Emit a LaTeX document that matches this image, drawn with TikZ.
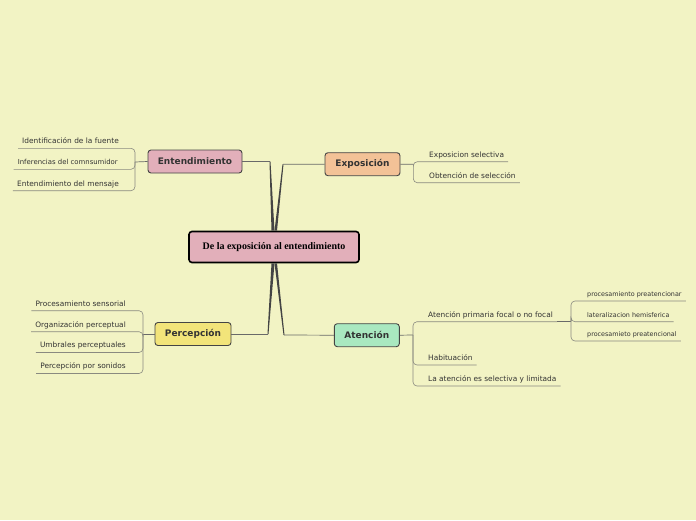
\documentclass[tikz,border=0pt]{standalone}
\usepackage{fontspec}
\setsansfont{DejaVu Sans}
\newfontfamily\titlefont{Liberation Serif}
\usepackage{xcolor}
\definecolor{bgyellow}{HTML}{F2F3C4}
\definecolor{pinkfill}{HTML}{E2AFBA}
\definecolor{orangefill}{HTML}{F3C297}
\definecolor{yellowfill}{HTML}{F2E47A}
\definecolor{greenfill}{HTML}{A9E8C0}
\definecolor{darkgray}{HTML}{444444}
\definecolor{textgray}{HTML}{333333}
\definecolor{linegray}{HTML}{8A8A80}
\usepackage{tikz}
\usetikzlibrary{positioning, calc}
\tikzstyle{centre} = [
  rectangle, rounded corners=3pt,
  draw=black, line width=1.6pt, fill=pinkfill,
  minimum width=170pt, minimum height=31pt,
  font=\titlefont\bfseries\fontsize{10}{12}\selectfont
]
\tikzstyle{topic} = [
  rectangle, rounded corners=3pt,
  draw=darkgray, line width=0.9pt, minimum height=23pt,
  text=textgray, font=\sffamily\bfseries\fontsize{9}{10}\selectfont
]
\tikzstyle{leaf} = [
  inner xsep=4pt, inner ysep=3pt, text height=5pt, text depth=1.5pt,
  text=textgray, font=\sffamily\fontsize{7.4}{8}\selectfont
]
\tikzstyle{subleaf} = [
  leaf, font=\sffamily\fontsize{6.4}{7}\selectfont
]
\tikzstyle{trunk} = [fill=darkgray]
\tikzstyle{twig} = [draw=darkgray!80, line width=0.7pt]
\tikzstyle{branch} = [draw=linegray, line width=0.6pt, rounded corners=4pt]

\begin{document}
\begin{tikzpicture}[x=1pt, y=-1pt]

  % ── Canvas ────────────────────────────────────────────
  \fill[bgyellow] (0,0) rectangle (696,520);
  \useasboundingbox (0,0) rectangle (696,520);

  % ── Centre and main topics ────────────────────────────
  \node[centre] (centre) at (274,247) {De la exposición al entendimiento};
  \node[topic, fill=pinkfill, minimum width=94pt]   (entend) at (195,161.5) {Entendimiento};
  \node[topic, fill=orangefill, minimum width=75pt] (expo)   at (362.5,164.2) {Exposición};
  \node[topic, fill=yellowfill, minimum width=76pt] (percep) at (193,334) {Percepción};
  \node[topic, fill=greenfill, minimum width=65pt]  (atenc)  at (366.8,335.2) {Atención};

  % ── Trunks from the centre ────────────────────────────
  \coordinate (bentend) at (270,161.5);
  \coordinate (bexpo)   at (283,164.3);
  \coordinate (bpercep) at (268,334);
  \coordinate (batenc)  at (284,335);

  \fill[trunk] ($(centre.north)+(-2.5,0)$) -- ($(bentend)+(-0.5,0)$)
    -- ($(bentend)+(0.5,0)$) -- ($(centre.north)+(0.5,0)$) -- cycle;
  \fill[trunk] ($(centre.north)+(0.5,0)$) -- ($(bexpo)+(-0.5,0)$)
    -- ($(bexpo)+(0.5,0)$) -- ($(centre.north)+(3,0)$) -- cycle;
  \fill[trunk] ($(centre.south)+(-2.5,0)$) -- ($(bpercep)+(-0.5,0)$)
    -- ($(bpercep)+(0.5,0)$) -- ($(centre.south)+(0.5,0)$) -- cycle;
  \fill[trunk] ($(centre.south)+(0.5,0)$) -- ($(batenc)+(-0.5,0)$)
    -- ($(batenc)+(0.5,0)$) -- ($(centre.south)+(3,0)$) -- cycle;

  \draw[twig] (bentend) -- (entend.east);
  \draw[twig] (bexpo)   -- (expo.west);
  \draw[twig] (bpercep) -- (percep.east);
  \draw[twig] (batenc)  -- (atenc.west);

  % ── Entendimiento ─────────────────────────────────────
  \coordinate (jentend) at (135,162);
  \draw[twig] (entend.west) -- (jentend);
  \node[leaf, anchor=south east] (fuente)  at (123,148.3) {Identificación de la fuente};
  \node[leaf, anchor=south east, font=\sffamily\fontsize{6.9}{8}\selectfont]
    (consum) at (122,169.3) {Inferencias del comnsumidor};
  \node[leaf, anchor=south east] (mensaje) at (123,190.7) {Entendimiento del mensaje};
  \draw[branch] (jentend) |- (fuente.south west);
  \draw[branch] (jentend) |- (consum.south west);
  \draw[branch] (jentend) |- (mensaje.south west);

  % ── Exposición ────────────────────────────────────────
  \coordinate (jexpo) at (413.3,164.3);
  \draw[twig] (expo.east) -- (jexpo);
  \node[leaf, anchor=south west] (selectiva) at (425,161.7) {Exposicion selectiva};
  \node[leaf, anchor=south west] (obtencion) at (425,182.7) {Obtención de selección};
  \draw[branch] (jexpo) |- (selectiva.south west) -- (selectiva.south east);
  \draw[branch] (jexpo) |- (obtencion.south west) -- (obtencion.south east);

  % ── Percepción ────────────────────────────────────────
  \coordinate (jpercep) at (143,334);
  \draw[twig] (percep.west) -- (jpercep);
  \node[leaf, anchor=south east] (sensorial)  at (130,310.7) {Procesamiento sensorial};
  \node[leaf, anchor=south east] (organiz)    at (130,331.7) {Organización perceptual};
  \node[leaf, anchor=south east] (umbrales)   at (130,352.5) {Umbrales perceptuales};
  \node[leaf, anchor=south east] (sonidos)    at (130,373.5) {Percepción por sonidos};
  \draw[branch] (jpercep) |- (sensorial.south west);
  \draw[branch] (jpercep) |- (organiz.south west);
  \draw[branch] (jpercep) |- (umbrales.south west);
  \draw[branch] (jpercep) |- (sonidos.south west);

  % ── Atención ──────────────────────────────────────────
  \coordinate (jatenc) at (413,335);
  \draw[twig] (atenc.east) -- (jatenc);
  \node[leaf, anchor=south west] (primaria)    at (424,321.7) {Atención primaria focal o no focal};
  \node[leaf, anchor=south west] (habituacion) at (424,365) {Habituación};
  \node[leaf, anchor=south west] (limitada)    at (424,386) {La atención es selectiva y limitada};
  \draw[branch] (jatenc) |- (primaria.south west) -- (primaria.south east);
  \draw[branch] (jatenc) |- (habituacion.south west) -- (habituacion.south east);
  \draw[branch] (jatenc) |- (limitada.south west) -- (limitada.south east);

  % sub-branch of the primary attention
  \coordinate (jprim) at (571,321.7);
  \draw[twig, line width=1pt] (primaria.south east) -- (jprim);
  \node[subleaf, anchor=south west] (preatencionar) at (583,301)   {procesamiento preatencionar};
  \node[subleaf, anchor=south west] (hemisferica)   at (583,321.7) {lateralizacion hemisferica};
  \node[subleaf, anchor=south west] (preatencional) at (583,341)   {procesamieto preatencional};
  \draw[branch] (jprim) |- (preatencionar.south west) -- (preatencionar.south east);
  \draw[branch] (jprim) |- (hemisferica.south west) -- (hemisferica.south east);
  \draw[branch] (jprim) |- (preatencional.south west) -- (preatencional.south east);

\end{tikzpicture}
\end{document}
